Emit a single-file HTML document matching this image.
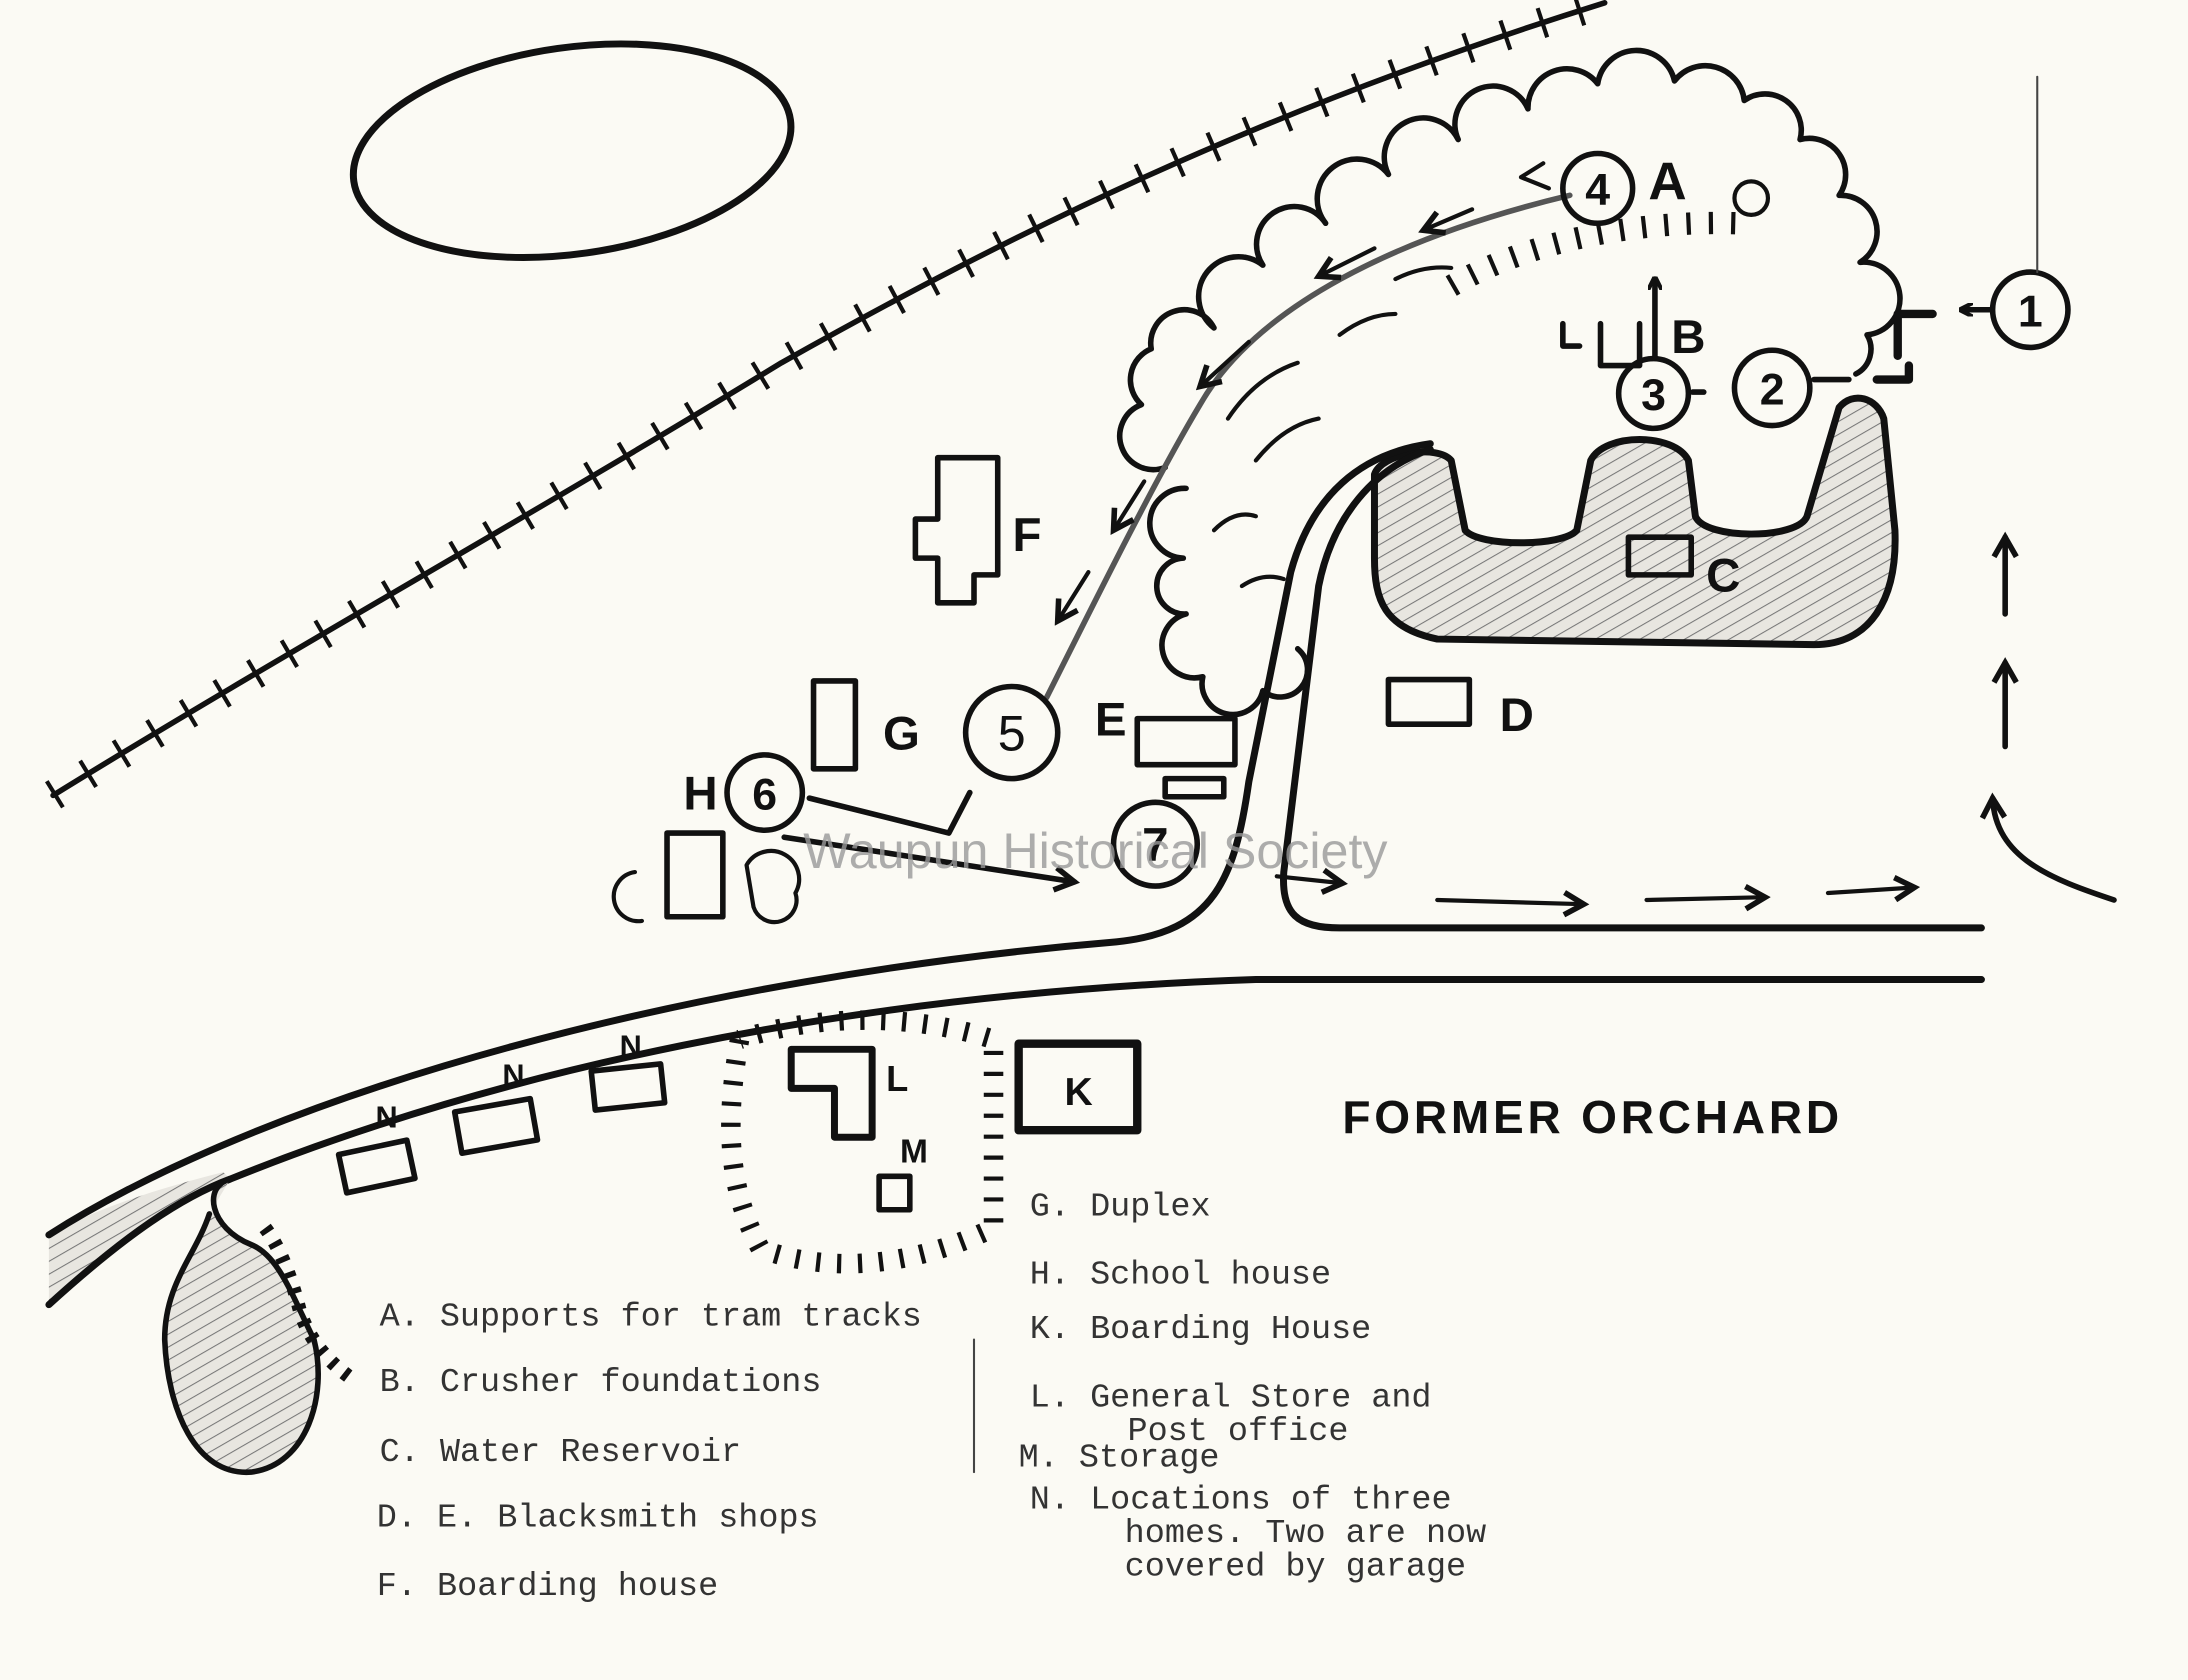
<!DOCTYPE html>
<html><head><meta charset="utf-8"><style>
html,body{margin:0;padding:0;background:#fbfaf4;}
svg{display:block}
.hand{font-family:"Liberation Sans",sans-serif;font-weight:bold;}
.mono{font-family:"Liberation Mono",monospace;font-size:24px;fill:#333;}
</style></head><body>
<svg width="2188" height="1680" viewBox="0 0 1568 1204" xmlns="http://www.w3.org/2000/svg">
<defs>
<pattern id="hatch" width="8" height="8" patternUnits="userSpaceOnUse" patternTransform="rotate(60)">
<rect width="8" height="8" fill="#e8e6e0"/><line x1="0" y1="0" x2="0" y2="8" stroke="#777" stroke-width="1.5"/></pattern>
<marker id="ah" markerWidth="10" markerHeight="10" refX="8" refY="5" orient="auto" markerUnits="userSpaceOnUse"><path d="M0,0 L10,5 L0,10" fill="none" stroke="#111" stroke-width="3"/></marker>
<marker id="ah2" markerWidth="20" markerHeight="20" refX="16" refY="10" orient="auto" markerUnits="userSpaceOnUse"><path d="M2,2 L16,10 L2,18" fill="none" stroke="#111" stroke-width="4"/></marker>
</defs>
<rect width="1568" height="1204" fill="#fbfaf4"/>
<g fill="none" stroke="#111" stroke-linecap="round" stroke-linejoin="round">
<ellipse cx="410" cy="108" rx="158" ry="74" transform="rotate(-8 410 108)" stroke-width="5"/>
<path d="M38,570 C200,470 380,370 560,260 C720,170 900,80 1150,2" stroke-width="4"/>
<path d="M38,570 C200,470 380,370 560,260 C720,170 900,80 1150,2" stroke-width="22" stroke-dasharray="3 25" stroke-linecap="butt"/>
<path d="M985,340 C990,325 1030,318 1040,330 L1050,380 C1060,392 1120,392 1130,380 L1140,330 C1150,310 1200,310 1210,330 L1215,370 C1222,387 1288,387 1295,370 L1318,292 C1328,280 1345,285 1350,300 L1358,380 C1360,430 1340,462 1300,462 L1030,458 C992,450 985,430 985,400 Z" fill="url(#hatch)" stroke-width="5"/>
<path d="M35,935 C90,885 130,858 165,845 L160,840 C120,850 70,865 35,885 Z" fill="url(#hatch)" stroke="none"/>
<path d="M35,885 C200,780 500,700 800,675 C870,668 885,630 895,560 L925,410 C940,355 975,325 1025,318" stroke-width="5"/>
<path d="M1025,322 C985,335 955,370 945,420 L920,625 C918,655 930,665 960,665 L1420,665" stroke-width="5"/>
<path d="M35,935 C90,885 130,858 165,845 C350,770 600,712 900,702 L1420,702" stroke-width="5"/>
<path d="M165,845 C145,850 150,880 180,892 C200,900 210,930 225,960 C235,1000 220,1050 180,1055 C140,1058 120,1010 118,960 C118,920 140,900 150,870" fill="url(#hatch)" stroke-width="4"/>
<path d="M190,880 q15,20 25,60 q10,30 40,50" stroke-width="10" stroke-dasharray="4 8" stroke-linecap="butt"/>
<path d="M835,335 A22,22 0 0 1 818,290 A24,24 0 0 1 825,250 A24,24 0 0 1 870,235 A26,26 0 0 1 905,190 A26,26 0 0 1 950,160 A26,26 0 0 1 995,125 A26,26 0 0 1 1045,100 A26,26 0 0 1 1095,78 A28,28 0 0 1 1145,60 A28,28 0 0 1 1200,58 A28,28 0 0 1 1250,72 A26,26 0 0 1 1290,100 A26,26 0 0 1 1318,140 A26,26 0 0 1 1333,188 A26,26 0 0 1 1338,240 A20,20 0 0 1 1330,268" stroke-width="4"/>
<path d="M850,350 A20,20 0 0 0 848,400 A20,20 0 0 0 850,440 A20,20 0 0 0 862,485 A20,20 0 0 0 905,495 A18,18 0 0 0 930,465" stroke-width="4"/>
<path d="M880,300 q20,-30 50,-40 M900,330 q20,-25 45,-30 M960,240 q20,-15 40,-15 M1000,200 q20,-10 40,-8 M870,380 q15,-15 30,-10 M890,420 q15,-10 30,-5" stroke-width="3"/>
<path d="M1040,205 C1100,170 1180,158 1245,160" stroke-width="16" stroke-dasharray="3 13" stroke-linecap="butt"/>
<path d="M1125,140 C1000,170 900,220 860,290 C830,340 790,420 750,500" stroke="#555" stroke-width="4"/>
<path d="M1110,135 l-20,-8 M1090,127 l16,-10" stroke-width="3"/>
<path d="M1055,150 l-35,15" stroke-width="3" marker-end="url(#ah2)"/>
<path d="M985,178 l-40,20" stroke-width="3" marker-end="url(#ah2)"/>
<path d="M895,245 l-35,32" stroke-width="3" marker-end="url(#ah2)"/>
<path d="M820,345 l-22,35" stroke-width="3" marker-end="url(#ah2)"/>
<path d="M780,410 l-22,35" stroke-width="3" marker-end="url(#ah2)"/>
<circle cx="1455" cy="222" r="27" stroke-width="4"/>
<circle cx="1270" cy="278" r="27" stroke-width="4"/>
<circle cx="1185" cy="282" r="25" stroke-width="4"/>
<circle cx="1145" cy="135" r="25" stroke-width="4"/>
<circle cx="725" cy="525" r="33" stroke-width="4"/>
<circle cx="548" cy="568" r="27" stroke-width="4"/>
<circle cx="828" cy="605" r="30" stroke-width="4"/>
<circle cx="1255" cy="142" r="12" stroke-width="3"/>
<path d="M1426,222 l-20,0" stroke-width="4" marker-end="url(#ah)"/>
<path d="M1360,255 L1360,225 L1385,225 M1345,272 L1368,272 L1368,262" stroke-width="6"/>
<path d="M1213,281 l8,0 M1300,272 l25,0" stroke-width="4"/>
<path d="M1147,232 L1147,262 L1175,262 L1175,232 M1120,232 L1120,248 L1132,248" stroke-width="4"/>
<path d="M1186,256 L1186,200" stroke-width="4" marker-end="url(#ah)"/>
<path d="M672,328 L715,328 L715,412 L698,412 L698,432 L672,432 L672,400 L656,400 L656,372 L672,372 Z" stroke-width="4"/>
<rect x="583" y="488" width="30" height="63" stroke-width="4"/>
<rect x="815" y="515" width="70" height="33" stroke-width="4"/>
<rect x="835" y="558" width="42" height="13" stroke-width="4"/>
<rect x="995" y="487" width="58" height="32" stroke-width="4"/>
<rect x="1167" y="385" width="45" height="27" stroke-width="4"/>
<rect x="478" y="597" width="40" height="60" stroke-width="4"/>
<path d="M455,625 a10,10 0 1 0 5,35 M535,620 a14,14 0 1 1 35,20 a12,12 0 1 1 -30,10 z" stroke-width="3"/>
<rect x="730" y="748" width="85" height="62" stroke-width="6"/>
<path d="M567,752 L625,752 L625,815 L598,815 L598,780 L567,780 Z" stroke-width="5"/>
<rect x="630" y="843" width="22" height="24" stroke-width="4"/>
<rect x="245" y="822" width="50" height="28" transform="rotate(-12 270 836)" stroke-width="4"/>
<rect x="328" y="792" width="55" height="30" transform="rotate(-10 355 807)" stroke-width="4"/>
<rect x="425" y="765" width="50" height="28" transform="rotate(-6 450 779)" stroke-width="4"/>
<path d="M530,745 C520,800 520,850 545,895 C600,915 660,905 712,880 L712,745 C650,725 580,728 530,745" stroke-width="14" stroke-dasharray="3 12" stroke-linecap="butt"/>
<path d="M580,572 L680,597 L695,568" stroke-width="4"/>
<path d="M562,600 L770,632" stroke-width="4" marker-end="url(#ah2)"/>
<path d="M915,628 L962,633" stroke-width="3" marker-end="url(#ah2)"/>
<path d="M1030,645 L1135,648" stroke-width="3" marker-end="url(#ah2)"/>
<path d="M1180,645 L1265,643" stroke-width="3" marker-end="url(#ah2)"/>
<path d="M1310,640 L1372,636" stroke-width="3" marker-end="url(#ah2)"/>
<path d="M1437,440 L1437,385" stroke-width="4" marker-end="url(#ah2)"/>
<path d="M1437,535 L1437,475" stroke-width="4" marker-end="url(#ah2)"/>
<path d="M1515,645 C1470,630 1430,615 1428,572" stroke-width="4" marker-end="url(#ah2)"/>
<path d="M1460,55 L1460,195" stroke-width="1.5" stroke="#444"/>
<path d="M698,960 L698,1055" stroke-width="1.5" stroke="#444"/>
</g>
<g class="hand" fill="#111" font-size="34" text-anchor="middle">
<text x="1455" y="234" font-size="32">1</text>
<text x="1270" y="290" font-size="32">2</text>
<text x="1185" y="294" font-size="32">3</text>
<text x="1145" y="147" font-size="32">4</text>
<text x="725" y="538" font-size="36" font-weight="normal">5</text>
<text x="548" y="580" font-size="32">6</text>
<text x="828" y="617" font-size="34">7</text>
<text x="1195" y="143" font-size="38">A</text>
<text x="1210" y="253">B</text>
<text x="1235" y="424">C</text>
<text x="1087" y="524">D</text>
<text x="796" y="527">E</text>
<text x="736" y="395">F</text>
<text x="646" y="537">G</text>
<text x="502" y="580">H</text>
<text x="773" y="792" font-size="28">K</text>
<text x="643" y="782" font-size="26">L</text>
<text x="655" y="833" font-size="24">M</text>
<text x="277" y="808" font-size="22">N</text>
<text x="368" y="778" font-size="22">N</text>
<text x="452" y="757" font-size="22">N</text>
<text x="962" y="812" font-size="33" text-anchor="start" textLength="356" lengthAdjust="spacing">FORMER ORCHARD</text>
</g>
<text x="785" y="622" font-family="Liberation Sans,sans-serif" font-size="36" fill="#999" opacity="0.8" text-anchor="middle">Waupun Historical Society</text>
<g class="mono">
<text x="272" y="950">A. Supports for tram tracks</text>
<text x="272" y="997">B. Crusher foundations</text>
<text x="272" y="1047">C. Water Reservoir</text>
<text x="270" y="1094">D. E. Blacksmith shops</text>
<text x="270" y="1143">F. Boarding house</text>
<text x="738" y="871">G. Duplex</text>
<text x="738" y="920">H. School house</text>
<text x="738" y="959">K. Boarding House</text>
<text x="738" y="1008">L. General Store and</text>
<text x="808" y="1032">Post office</text>
<text x="730" y="1051">M. Storage</text>
<text x="738" y="1081">N. Locations of three</text>
<text x="806" y="1105">homes. Two are now</text>
<text x="806" y="1129">covered by garage</text>
</g>
</svg>
</body></html>
